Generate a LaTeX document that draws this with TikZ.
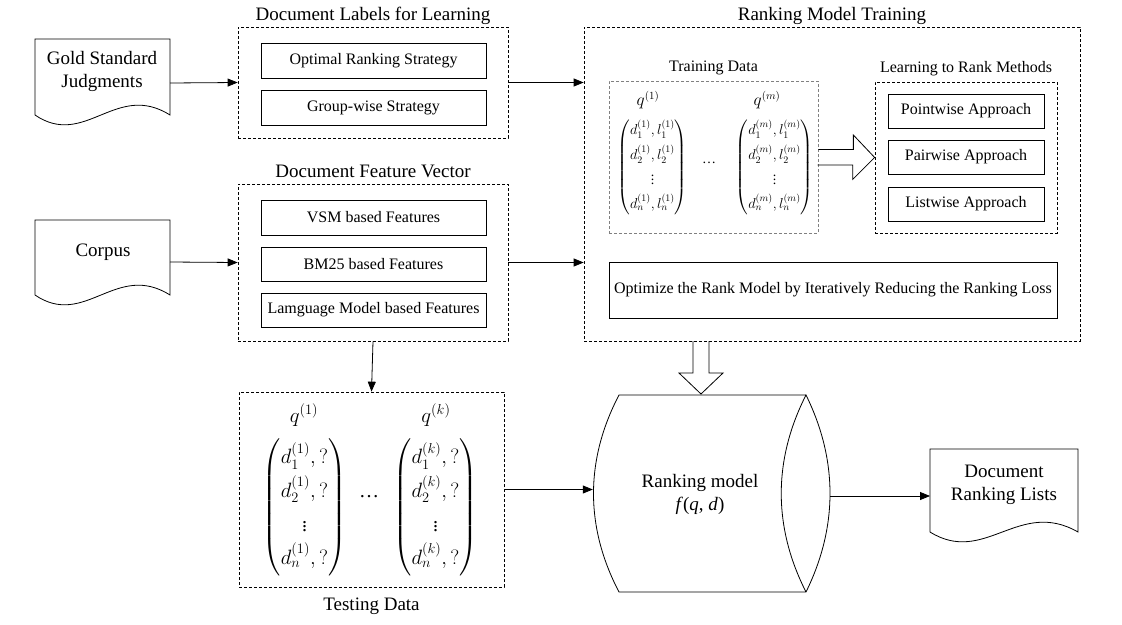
\documentclass[tikz,border=0pt]{standalone}
\usepackage{amsmath}
\usepackage{fontspec}
\setmainfont{Liberation Serif}
\usetikzlibrary{positioning,arrows.meta}

\newcommand{\docshape}[4]{\draw[line width=0.8pt] (#1,#4) -- (#1,#2) -- (#3,#2) -- (#3,#4) .. controls +({-0.4*(#3-#1)},-34) and +({0.37*(#3-#1)},34) .. (#1,#4) -- cycle;}
\newcommand{\traincol}[1]{$\begin{pmatrix} d_1^{(#1)},l_1^{(#1)}\\ d_2^{(#1)},l_2^{(#1)}\\ \vdots\\ d_n^{(#1)},l_n^{(#1)}\end{pmatrix}$}
\newcommand{\testcol}[1]{$\begin{pmatrix} d_1^{(#1)},?\\ d_2^{(#1)},?\\ \vdots\\ d_n^{(#1)},?\end{pmatrix}$}

\tikzset{
  box/.style={draw,line width=0.9pt,minimum width=225pt,minimum height=35pt,font=\fontsize{16}{19}\selectfont},
  dbox/.style={draw,dash pattern=on 3pt off 2pt,line width=0.7pt},
  title/.style={font=\fontsize{19}{23}\selectfont,text depth=4pt},
  sub/.style={font=\fontsize{16}{19}\selectfont,text depth=4pt},
  doc/.style={font=\fontsize{19}{23}\selectfont,align=center},
  trainmath/.style={font=\fontsize{14}{17}\selectfont\def\arraystretch{1.45},inner sep=0pt},
  testmath/.style={font=\fontsize{20}{24}\selectfont\def\arraystretch{1.4},inner sep=0pt},
  arr/.style={-{Triangle[length=10pt,width=8pt]},line width=0.8pt},
  hollow/.style={line width=0.8pt}
}

\begin{document}
\begin{tikzpicture}[x=1pt,y=-1pt]
\useasboundingbox (0,0) rectangle (1122,624);

% input documents
\docshape{35}{39}{170}{115}
\node[doc] (gold) at (102,71) {Gold Standard\\Judgments};
\coordinate (goldout) at (170,83);
\docshape{35}{220}{170}{295}
\node[doc] (corpus) at (103,252) {Corpus};
\coordinate (corpusout) at (170,262);

% document labels
\node[dbox,minimum width=270pt,minimum height=111pt] (labels) at (373,82.5) {};
\node[title,above=-1pt of labels] (labelstitle) {Document Labels for Learning};
\node[box] (optimal) at (373.5,60.5) {Optimal Ranking Strategy};
\node[box] (group) at (373.5,107.5) {Group-wise Strategy};

% document features
\node[dbox,minimum width=270pt,minimum height=157pt] (feature) at (373,262.5) {};
\node[title,above=-1pt of feature] (featuretitle) {Document Feature Vector};
\node[box] (vsm) at (373.5,217.5) {VSM based Features};
\node[box,minimum height=34pt] (bm25) at (373.5,264) {BM25 based Features};
\node[box,minimum height=34pt] (lm) at (373.5,310) {Lamguage Model based Features};

% ranking model training
\node[dbox,minimum width=496pt,minimum height=314pt] (rmt) at (832,184) {};
\node[title,above=-1pt of rmt] (rmttitle) {Ranking Model Training};
\node[dbox,draw=gray,minimum width=209pt,minimum height=152pt] (train) at (713.5,157) {};
\node[sub,above=2pt of train] (traintitle) {Training Data};
\node[font=\fontsize{16}{19}\selectfont] (tq1) at (648,100) {$q^{(1)}$};
\node[font=\fontsize{16}{19}\selectfont] (tqm) at (767,100) {$q^{(m)}$};
\node[trainmath] (tm1) at (652.5,167) {\traincol{1}};
\node[trainmath] (tmm) at (774.5,167) {\traincol{m}};
\node[font=\fontsize{14}{17}\selectfont] (tdots) at (709,163) {\dots};

\node[dbox,minimum width=182pt,minimum height=151pt] (ltr) at (966,157.5) {};
\node[sub,above=2pt of ltr] (ltrtitle) {Learning to Rank Methods};
\node[box,minimum width=156pt,minimum height=34pt] (point) at (966,111) {Pointwise Approach};
\node[box,minimum width=156pt,minimum height=34pt] (pair) at (966,157) {Pairwise Approach};
\node[box,minimum width=156pt,minimum height=34pt] (list) at (966,204) {Listwise Approach};
\draw[hollow] (train.east) ++(0,-7.5) -- ++(35,0) -- ++(0,-14.5) -- (ltr.west) -- ++(-22,22) -- ++(0,-14.5) -- ++(-35,0);

\node[box,minimum width=448pt,minimum height=56pt] (optim) at (833,290) {Optimize the Rank Model by Iteratively Reducing the Ranking Loss};

% testing data
\node[dbox,minimum width=265pt,minimum height=195pt] (test) at (371.5,489.5) {};
\node[title,below=7pt of test] (testtitle) {Testing Data};
\node[font=\fontsize{22}{26}\selectfont] (sq1) at (304,415) {$q^{(1)}$};
\node[font=\fontsize{22}{26}\selectfont] (sqk) at (436,415) {$q^{(k)}$};
\node[testmath] (sm1) at (304.5,507.5) {\testcol{1}};
\node[testmath] (smk) at (435.5,507.5) {\testcol{k}};
\node[font=\fontsize{20}{24}\selectfont] (sdots) at (369,497) {\dots};

% ranking model
\node[minimum width=237pt,minimum height=197pt] (model) at (711.5,493.5) {};
\draw[line width=0.8pt] (806,395) -- (619,395) .. controls (585,460) and (585,527) .. (619,592) -- (806,592) .. controls (838,527) and (838,460) .. (806,395) .. controls (773,460) and (773,527) .. (806,592);
\node[doc] (modeltext) at (700,494) {Ranking model\\\textit{f}(\textit{q}, \textit{d})};
\coordinate (fatin) at (701,341);
\draw[hollow] (fatin) ++(-8,0) -- ++(0,32) -- ++(-14,0) -- ++(22,21) -- ++(22,-21) -- ++(-14,0) -- ++(0,-32);

% output document
\docshape{930}{449}{1078}{532}
\node[doc] (ranklist) at (1004,484.5) {Document\\Ranking Lists};
\coordinate (listin) at (930,496);

% connectors
\draw[arr] (goldout) -- (labels.west);
\draw[arr] (corpusout) -- (feature.west);
\draw[arr] (labels.east) -- (labels.east -| rmt.west);
\draw[arr] (feature.east) -- (feature.east -| rmt.west);
\draw[arr] (feature.south) -- (test.north);
\draw[arr] (test.east) -- (test.east -| model.west);
\draw[arr] (model.east |- listin) -- (listin);
\end{tikzpicture}
\end{document}
